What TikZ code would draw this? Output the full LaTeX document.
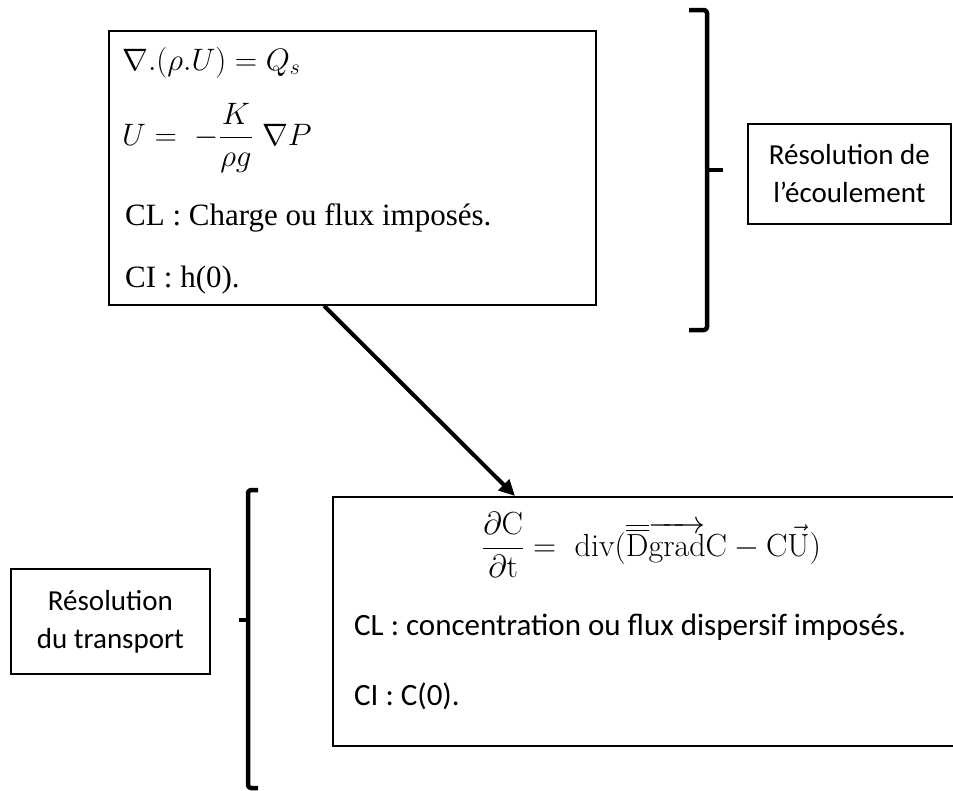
\RequirePackage{fix-cm}
\documentclass[tikz,border=0pt]{standalone}
\usepackage{amsmath}
\usepackage{fontspec}
\newfontfamily\calfont{Carlito}
\newfontfamily\timesfont{Liberation Serif}
\usetikzlibrary{arrows.meta}
\begin{document}
\begin{tikzpicture}[x=1pt,y=-1pt,
  box/.style={draw=black,line width=1.8pt,inner sep=0pt},
  bracket/.style={draw=black,line width=4.5pt,line join=round,rounded corners=3pt},
  tick/.style={draw=black,line width=4.5pt,line cap=butt},
  txt/.style={inner sep=0pt,anchor=base west},
  mathtxt/.style={txt,font=\fontsize{31}{37}\selectfont},
  eqtxt/.style={txt,font=\fontsize{32}{38}\selectfont},
  serif/.style={txt,font=\timesfont\fontsize{31}{37}\selectfont},
  sans/.style={txt,font=\calfont\fontsize{31}{37}\selectfont},
  lbl/.style={inner sep=0pt,align=center,font=\calfont\fontsize{29}{38}\selectfont},
  link/.style={draw=black,line width=4pt,-{Triangle[length=16pt,width=15pt]}}]
\useasboundingbox (0,0) rectangle (953,790);
% flow box
\node[box,anchor=north west,minimum width=487pt,minimum height=274pt] (flow) at (108,30) {};
\node[mathtxt] (l1) at (122,70) {$\nabla.(\rho.U) = Q_s$};
\node[mathtxt] (l2) at (122,145) {$U =\ -\dfrac{K}{\rho g}\ \nabla P$};
\node[serif] (l3) at (125,225) {CL : Charge ou flux imposés.};
\node[serif] (l4) at (125,287) {CI : h(0).};
% right bracket and label
\coordinate (rb1) at (689,10);
\coordinate (rb2) at (689,330);
\draw[bracket] (rb1) -- (707,10) -- (707,330) -- (rb2);
\draw[tick] (706,170) -- (723,170);
\node[box,lbl,anchor=north west,minimum width=203pt,minimum height=100pt] (flowlbl) at (747,123) {Résolution de\\l’écoulement};
% transport box
\node[box,anchor=north west,minimum width=660pt,minimum height=249pt] (tr) at (332,496) {};
\node[eqtxt] (e1) at (482,556) {$\dfrac{\partial\mathrm{C}}{\partial\mathrm{t}} =\ \mathrm{div}(\overline{\overline{\mathrm{D}}}\overrightarrow{\mathrm{grad}}\mathrm{C} - \mathrm{C}\vec{\mathrm{U}})$};
\node[sans] (e2) at (354,635) {CL : concentration ou flux dispersif imposés.};
\node[sans] (e3) at (354,705) {CI : C(0).};
% arrow
\coordinate (a0) at ([xshift=216pt]flow.south west);
\coordinate (a1) at ([xshift=183pt]tr.north west);
\draw[link] (a0) -- (a1);
% left bracket and label
\draw[bracket] (258,490) -- (248,490) -- (248,788) -- (258,788);
\draw[tick] (249,620) -- (239,620);
\node[box,lbl,anchor=north west,minimum width=199pt,minimum height=105pt] (trlbl) at (10,568) {Résolution\\du transport};
\end{tikzpicture}
\end{document}
